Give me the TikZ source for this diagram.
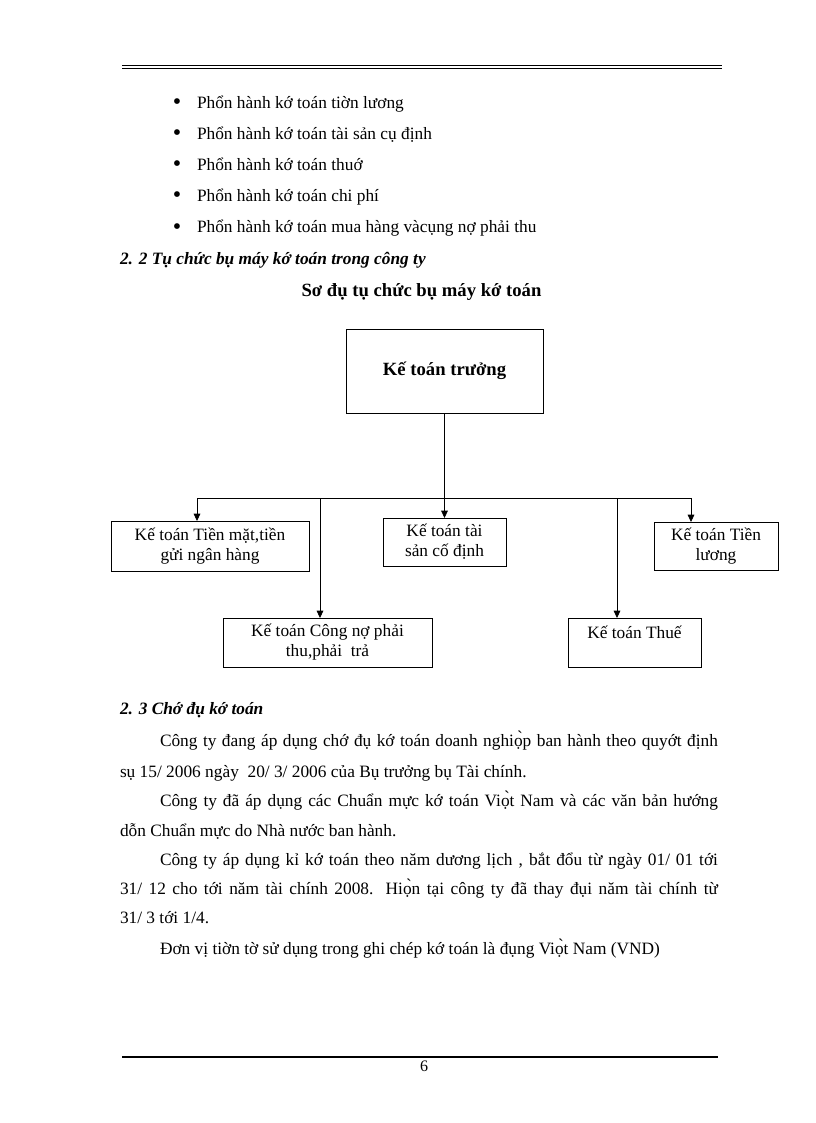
\documentclass[tikz,border=0pt]{standalone}
\usepackage{fontspec}
\setmainfont{Liberation Serif}
\usetikzlibrary{arrows.meta,positioning}

\begin{document}
\begin{tikzpicture}[x=0.75pt,y=-0.75pt,
    every node/.style={inner sep=0pt,outer sep=0pt},
    thanvan/.style={anchor=base west,font=\fontsize{13}{15}\selectfont},
    tieude/.style={anchor=base west,font=\fontsize{13}{15}\selectfont\bfseries\itshape},
    hop/.style={draw,line width=0.6pt,align=center,font=\fontsize{13}{15}\selectfont},
    noi/.style={line width=0.6pt},
    muiten/.style={noi,-{Triangle[length=5.5pt,width=5pt]}}]

    % khung trang
    \useasboundingbox (0,0) rectangle (816,1123);
    \coordinate (dau1) at (122,65.5);  \coordinate (cuoi1) at (722,65.5);
    \coordinate (dau2) at (122,68.5);  \coordinate (cuoi2) at (722,68.5);
    \draw[line width=0.6pt] (dau1) -- (cuoi1);
    \draw[line width=0.9pt] (dau2) -- (cuoi2);

    % cac phan hanh
    \foreach \txt [count=\i] in {Phổn hành kớ toán tiờn lương,
        Phổn hành kớ toán tài sản cụ định,
        Phổn hành kớ toán thuớ,
        Phổn hành kớ toán chi phí,
        Phổn hành kớ toán mua hàng vàcụng nợ phải thu}
    {
        \node[thanvan] (muc\i) at (197,{78+31*\i}) {\txt};
        \node[thanvan,anchor=base,font=\fontsize{18}{18}\selectfont] (cham\i) at (177,{79+31*\i}) {\textbullet};
    }

    \node[tieude] (muc22) at (120,264) {2. 2 Tụ chức bụ máy kớ toán trong công ty};
    \node[anchor=base,font=\fontsize{14}{16}\selectfont\bfseries] (sodo) at (421.5,296)
        {Sơ đụ tụ chức bụ máy kớ toán};

    % cac hop
    \node[hop,minimum width=147.75pt,minimum height=63pt,font=\fontsize{14}{16}\selectfont\bfseries]
        (truong) at (444.5,371) {Kế toán trưởng};
    \node[hop,minimum width=148.5pt,minimum height=37.5pt] (tienmat) at (210,546)
        {Kế toán Tiền mặt,tiền\\gửi ngân hàng};
    \node[hop,minimum width=92.25pt,minimum height=36pt] (taisan) at (444.5,542)
        {Kế toán tài\\sản cố định};
    \node[hop,minimum width=93pt,minimum height=36pt] (luong) at (716,546)
        {Kế toán Tiền\\lương};
    \node[hop,minimum width=156.75pt,minimum height=36.75pt] (congno) at (327.5,642.5)
        {Kế toán Công nợ phải\\thu,phải \ trả};
    \node[hop,minimum width=99.75pt,minimum height=36.75pt] (thue) at (634.5,642.5)
        {Kế toán Thuế\\\mbox{}};

    % duong noi
    \coordinate (reL) at (197,498);
    \coordinate (reC1) at (320,498);
    \coordinate (reC2) at (617,498);
    \coordinate (reR) at (691,498);
    \draw[muiten] (truong.south) -- (taisan.north);
    \draw[noi] (reL) -- (reR);
    \draw[muiten] (reL) -- (reL |- tienmat.north);
    \draw[muiten] (reR) -- (reR |- luong.north);
    \draw[muiten] (reC1) -- (reC1 |- congno.north);
    \draw[muiten] (reC2) -- (reC2 |- thue.north);

    % che do ke toan
    \node[tieude] (muc23) at (120,714) {2. 3 Chớ đụ kớ toán};
    \node[thanvan] (dong1) at (160,746) {\makebox[418.5pt][s]{Công ty đang áp dụng chớ đụ kớ toán doanh nghiọ̀p ban hành theo quyớt định}};
    \node[thanvan] (dong2) at (120,777) {sụ 15/ 2006 ngày \ 20/ 3/ 2006 của Bụ trưởng bụ Tài chính.};
    \node[thanvan] (dong3) at (160,806) {\makebox[418.5pt][s]{Công ty đã áp dụng các Chuẩn mực kớ toán Viọ̀t Nam và các văn bản hướng}};
    \node[thanvan] (dong4) at (120,836) {dỗn Chuẩn mực do Nhà nước ban hành.};
    \node[thanvan] (dong5) at (160,865) {\makebox[418.5pt][s]{Công ty áp dụng kỉ kớ toán theo năm dương lịch , bắt đổu từ ngày 01/ 01 tới}};
    \node[thanvan] (dong6) at (120,894) {\makebox[448.5pt][s]{31/ 12 cho tới năm tài chính 2008. Hiọ̀n tại công ty đã thay đụi năm tài chính từ}};
    \node[thanvan] (dong7) at (120,923) {31/ 3 tới 1/4.};
    \node[thanvan] (dong8) at (160,954) {Đơn vị tiờn tờ sử dụng trong ghi chép kớ toán là đụng Viọ̀t Nam (VND)};

    % chan trang
    \coordinate (dau3) at (122,1057);  \coordinate (cuoi3) at (718,1057);
    \draw[line width=1.5pt] (dau3) -- (cuoi3);
    \node[anchor=base,font=\fontsize{12}{14}\selectfont] (trang) at (424,1071) {6};
\end{tikzpicture}
\end{document}
